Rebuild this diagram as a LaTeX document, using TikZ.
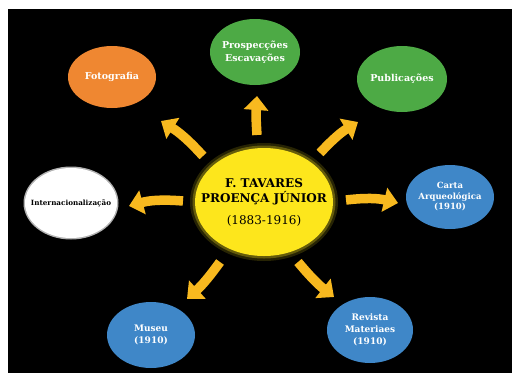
\documentclass[tikz,border=0pt]{standalone}
\usepackage{fontspec}
\setmainfont{DejaVu Serif}
\usetikzlibrary{shapes.geometric,arrows.meta}
\definecolor{cyel}{RGB}{253,230,28}
\definecolor{carr}{RGB}{248,185,31}
\definecolor{corg}{RGB}{239,135,49}
\definecolor{cgrn}{RGB}{77,170,69}
\definecolor{cblu}{RGB}{63,135,200}
\tikzset{
  bub/.style={ellipse, inner sep=0pt},
  lbl/.style={align=center, text=white, inner sep=0pt, font=\bfseries\fontsize{8.5}{10.5}\selectfont},
  arr/.style={carr, line width=9.5pt, -{Triangle[width=24pt,length=14pt]}},
}
\begin{document}
\begin{tikzpicture}[x=1pt,y=-1pt]
\useasboundingbox (0,0) rectangle (512,373);
\fill[white] (0,0) rectangle (512,373);
\fill[black] (8,9) rectangle (512,373);
% center glow
\fill[cyel!45!black, opacity=0.35] (264,202) ellipse [x radius=74, y radius=59];
\fill[cyel!65!black, opacity=0.5] (264,202) ellipse [x radius=71.5, y radius=56.5];
\node[bub, fill=cyel, minimum width=138pt, minimum height=108pt] (c) at (264,202) {};
\node[lbl, text=black, font=\bfseries\fontsize{12}{15.5}\selectfont] (ct) at (264,202)
  {F. TAVARES\\PROENÇA JÚNIOR\\[6pt]{\mdseries(1883-1916)}};
\node[bub, fill=corg, minimum width=88pt, minimum height=62pt] (foto) at (112,77) {};
\node[lbl, font=\bfseries\fontsize{9.5}{11}\selectfont] at (foto) {Fotografia};
\node[bub, fill=cgrn, minimum width=90pt, minimum height=66pt] (pros) at (255,52) {};
\node[lbl, font=\bfseries\fontsize{9.5}{12.5}\selectfont] at (pros) {Prospecções\\Escavações};
\node[bub, fill=cgrn, minimum width=90pt, minimum height=66pt] (pub) at (402,79) {};
\node[lbl, font=\bfseries\fontsize{9.5}{11}\selectfont] at (pub) {Publicações};
\fill[white!70!black] (71,203) ellipse [x radius=47.5, y radius=36.5];
\node[bub, fill=white, minimum width=92pt, minimum height=70pt] (int) at (71,203) {};
\node[lbl, text=black, font=\bfseries\fontsize{7.2}{8.5}\selectfont] at (int) {Internacionalização};
\node[bub, fill=cblu, minimum width=88pt, minimum height=64pt] (carta) at (450,197) {};
\node[lbl] at (carta) {Carta\\Arqueológica\\(1910)};
\node[bub, fill=cblu, minimum width=88pt, minimum height=66pt] (mus) at (151,335) {};
\node[lbl, font=\bfseries\fontsize{9}{12}\selectfont] at (mus) {Museu\\(1910)};
\node[bub, fill=cblu, minimum width=86pt, minimum height=66pt] (rev) at (370,330) {};
\node[lbl, font=\bfseries\fontsize{9}{12}\selectfont] at (rev) {Revista\\Materiaes\\(1910)};
% arrow end points
\coordinate (a1s) at (257,135); \coordinate (a1e) at (257,96);
\coordinate (a2s) at (203,156); \coordinate (a2e) at (161,121);
\coordinate (a3s) at (320,153); \coordinate (a3e) at (358,122);
\coordinate (a4s) at (183,201); \coordinate (a4e) at (129,206);
\coordinate (a5s) at (346,200); \coordinate (a5e) at (398,203);
\coordinate (a6s) at (220,262); \coordinate (a6e) at (187,299);
\coordinate (a7s) at (298,262); \coordinate (a7e) at (334,297);
\draw[arr] (a1s) to[bend left=4] (a1e);
\draw[arr] (a2s) to[bend right=8] (a2e);
\draw[arr] (a3s) to[bend left=8] (a3e);
\draw[arr] (a4s) to[bend right=10] (a4e);
\draw[arr] (a5s) to[bend left=10] (a5e);
\draw[arr] (a6s) to[bend left=6] (a6e);
\draw[arr] (a7s) to[bend right=6] (a7e);
\end{tikzpicture}
\end{document}
